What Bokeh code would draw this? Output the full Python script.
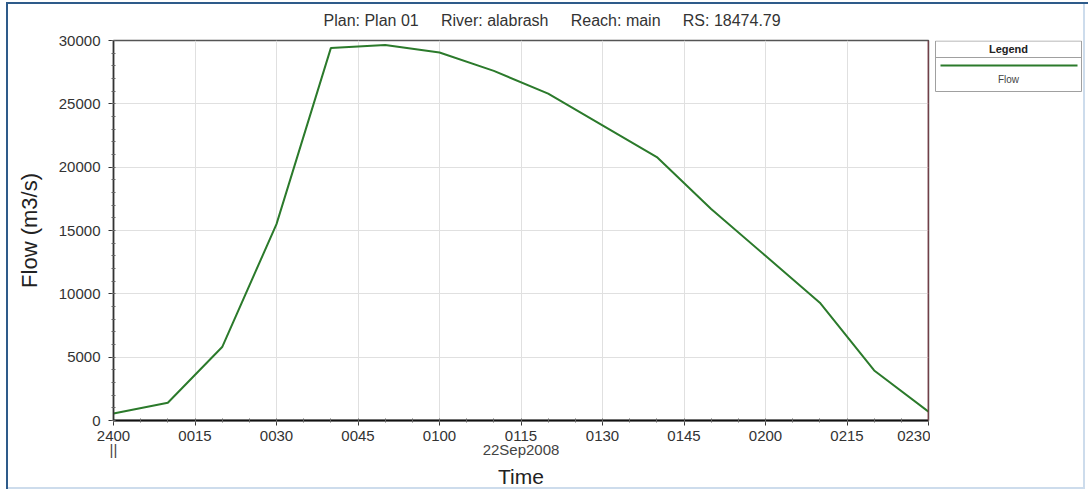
from bokeh.plotting import figure
from bokeh.layouts import row
from bokeh.models import (Range1d, FixedTicker, Span, ColumnDataSource,
                          LinearAxis)
from bokeh.core.properties import value
from bokeh.embed import file_html
from bokeh.resources import INLINE

# Hydrograph at RS 18474.79, 10-minute output interval
minutes = [0, 10, 20, 30, 40, 50, 60, 70, 80, 90, 100, 110, 120, 130, 140, 150]
flow = [550, 1400, 5800, 15500, 29400, 29650, 29050, 27600, 25800, 23300,
        20800, 16700, 13000, 9300, 3950, 700]

x_ticks = [0, 15, 30, 45, 60, 75, 90, 105, 120, 135, 150]
x_tick_labels = ["2400", "0015", "0030", "0045", "0100", "0115", "0130",
                 "0145", "0200", "0215", "0230"]
y_ticks = [0, 5000, 10000, 15000, 20000, 25000, 30000]

# second row under the time ticks: day break marker and the date
date_ticks = [0, 75]
date_labels = ["||", "22Sep2008"]

GAP = "\u00a0\u00a0\u00a0\u00a0 "
title_text = GAP.join(["Plan: Plan 01", "River: alabrash", "Reach: main",
                       "RS: 18474.79"])
legend_title = "Legend"
series_name = "Flow"

FONT = "Liberation Sans"
LINE_GREEN = "#2b7a2b"
FRAME_BLUE = "#2e5b8a"
FRAME_LIGHT = "#cddcec"

p = figure(width=930, height=490, output_backend="svg", toolbar_location=None,
           x_range=Range1d(0, 150), y_range=Range1d(0, 30000),
           min_border_left=113, min_border_right=2,
           min_border_top=40, min_border_bottom=70)

p.background_fill_color = "white"
p.border_fill_color = None
p.outline_line_color = "#555555"
p.outline_line_width = 1.5

p.title.text = title_text
p.title.align = "left"
p.title.offset = 210
p.title.vertical_align = "top"
p.title.standoff = 20
p.title.text_font = FONT
p.title.text_font_size = "16px"
p.title.text_font_style = "normal"
p.title.text_color = "#333333"

# axes
p.xaxis.ticker = FixedTicker(ticks=x_ticks, minor_ticks=list(range(0, 151, 5)))
p.xaxis.major_label_overrides = {t: s for t, s in zip(x_ticks, x_tick_labels)}
p.yaxis.ticker = FixedTicker(ticks=y_ticks, minor_ticks=list(range(0, 30001, 1000)))
p.yaxis.major_label_overrides = {t: str(t) for t in y_ticks}

for ax in (p.xaxis[0], p.yaxis[0]):
    ax.major_label_text_font = FONT
    ax.major_label_text_font_size = "15px"
    ax.major_label_text_color = "#333333"
    ax.axis_label_text_font = FONT
    ax.axis_label_text_font_style = "normal"
    ax.axis_label_text_color = "#222222"
    ax.major_tick_out = 5
    ax.major_tick_in = 0
    ax.minor_tick_out = 2
    ax.minor_tick_in = 2
    ax.major_tick_line_color = "#333333"
    ax.minor_tick_line_color = "#666666"

p.xaxis.axis_line_width = 2
p.xaxis.axis_line_color = "#111111"
p.xaxis.major_label_standoff = 5

p.yaxis.axis_label = "Flow (m3/s)"
p.yaxis.axis_label_text_font_size = "22px"
p.yaxis.axis_line_width = 1.5
p.yaxis.axis_line_color = "#333333"
p.yaxis.major_label_standoff = 8
p.yaxis.axis_label_standoff = 14

date_axis = LinearAxis(ticker=FixedTicker(ticks=date_ticks, minor_ticks=[]),
                       major_label_overrides=dict(zip(date_ticks, date_labels)),
                       axis_line_color=None, major_tick_line_color=None,
                       minor_tick_line_color=None, major_label_standoff=-9,
                       major_label_text_font=FONT,
                       major_label_text_font_size="15px",
                       major_label_text_color="#444444",
                       axis_label="Time", axis_label_standoff=4,
                       axis_label_text_font=FONT,
                       axis_label_text_font_size="21px",
                       axis_label_text_font_style="normal",
                       axis_label_text_color="#222222")
p.add_layout(date_axis, "below")

p.xgrid.grid_line_color = "#e0e0e0"
p.ygrid.grid_line_color = "#e0e0e0"

# right edge of the plotting area
p.add_layout(Span(location=150, dimension="height", line_color="#8b2c3c",
                  line_width=1.5))

src = ColumnDataSource(data=dict(t=minutes, q=flow))
flow_line = p.line("t", "q", source=src, line_color=LINE_GREEN, line_width=2)

# legend panel to the right of the chart; its frame lines up with the chart
# frame (rows 40..420), so the ranges below are page pixels, y downward
leg = figure(width=158, height=490, output_backend="svg", toolbar_location=None,
             title=None, x_range=Range1d(0, 158), y_range=Range1d(420, 40),
             x_axis_type=None, y_axis_type=None, min_border=0)
leg.background_fill_color = None
leg.border_fill_color = None
leg.outline_line_color = None

box_l, box_r, box_t, box_b = 5, 151, 40.5, 91
sep_y, key_y = 57, 65
leg.quad(left=[box_l], right=[box_r], top=[box_t], bottom=[box_b],
         fill_color="white", line_color="#a0a0a0", line_width=1)
leg.segment(x0=[box_l], x1=[box_r], y0=[sep_y], y1=[sep_y],
            line_color="#a0a0a0", line_width=1)
leg.segment(x0=[box_l + 5], x1=[box_r - 4], y0=[key_y], y1=[key_y],
            line_color=LINE_GREEN, line_width=2)
mid = (box_l + box_r) / 2
leg.text(x=[mid], y=[48], text=[legend_title],
         text_align="center", text_baseline="middle",
         text_font=value(FONT), text_font_size="11px", text_font_style="bold",
         text_color="#222222")
leg.text(x=[mid], y=[79], text=[series_name],
         text_align="center", text_baseline="middle",
         text_font=value(FONT), text_font_size="10px", text_color="#444444")

# page frame drawn behind the transparent canvases
frame_css = (
    f"linear-gradient({FRAME_BLUE},{FRAME_BLUE}) 6px 2px / 2px 487px no-repeat, "
    f"linear-gradient({FRAME_BLUE},{FRAME_BLUE}) 6px 2px / 1082px 2px no-repeat, "
    f"linear-gradient({FRAME_LIGHT},{FRAME_LIGHT}) 6px 487px / 1078px 2px no-repeat, "
    f"linear-gradient({FRAME_LIGHT},{FRAME_LIGHT}) 1083px 2px / 2px 487px no-repeat, "
    "#ffffff"
)
layout = row(p, leg, styles={"background": frame_css})

open("out.html", "w").write(file_html(layout, INLINE))
